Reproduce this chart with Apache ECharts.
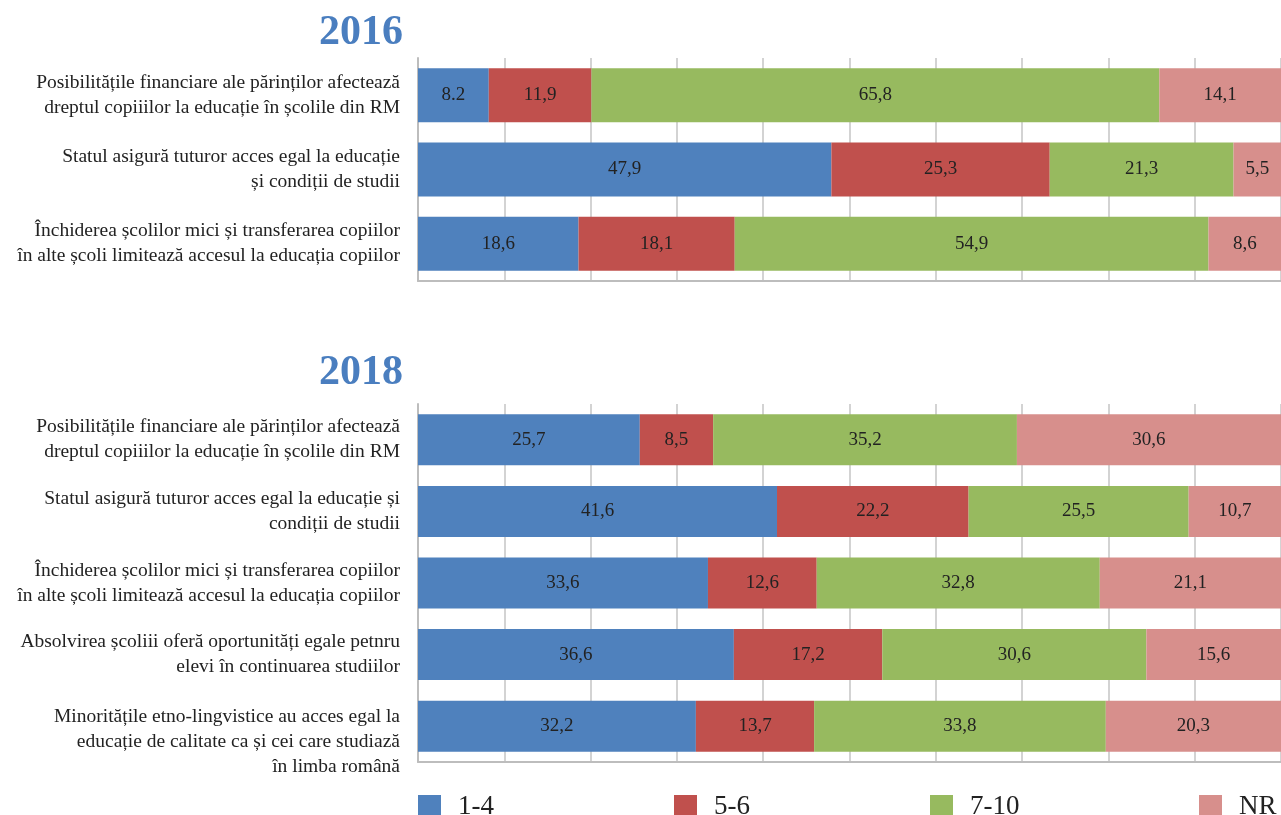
<!DOCTYPE html>
<html>
<head>
<meta charset="utf-8">
<title>2016 / 2018</title>
<script src="https://cdn.jsdelivr.net/npm/echarts@6/dist/echarts.min.js"></script>
<style>
  html, body { margin: 0; padding: 0; background: #fff; }
  #chart { width: 1281px; height: 815px; }
</style>
</head>
<body>
<div id="chart"></div>
<script>
// 2016
var cats2016 = [
  'Posibilitățile financiare ale părinților afectează\ndreptul copiiilor la educație în școlile din RM',
  'Statul asigură tuturor acces egal la educație\nși condiții de studii',
  'Închiderea școlilor mici și transferarea copiilor\nîn alte școli limitează accesul la educația copiilor'
];
var s14_2016 = [8.2, 47.9, 18.6];
var s56_2016 = [11.9, 25.3, 18.1];
var s710_2016 = [65.8, 21.3, 54.9];
var nr_2016 = [14.1, 5.5, 8.6];

// 2018
var cats2018 = [
  'Posibilitățile financiare ale părinților afectează\ndreptul copiiilor la educație în școlile din RM',
  'Statul asigură tuturor acces egal la educație și\ncondiții de studii',
  'Închiderea școlilor mici și transferarea copiilor\nîn alte școli limitează accesul la educația copiilor',
  'Absolvirea școliii oferă oportunități egale petnru\nelevi în continuarea studiilor',
  'Minoritățile etno-lingvistice au acces egal la\neducație de calitate ca și cei care studiază\nîn limba română'
];
var s14_2018 = [25.7, 41.6, 33.6, 36.6, 32.2];
var s56_2018 = [8.5, 22.2, 12.6, 17.2, 13.7];
var s710_2018 = [35.2, 25.5, 32.8, 30.6, 33.8];
var nr_2018 = [30.6, 10.7, 21.1, 15.6, 20.3];

var seriesNames = ['1-4', '5-6', '7-10', 'NR'];
var colors = ['#4F81BD', '#C0504D', '#97BA5F', '#D78F8C'];
var xTicks = [0, 100, 10]; // min, max, interval

var FONT = 'Liberation Serif';
var myChart = echarts.init(document.getElementById('chart'));

function fmt(p) {
  // in the source only the first value uses a dot
  if (p.seriesName === '1-4' && p.dataIndex === 0 && p.value === 8.2) return '8.2';
  return String(p.value).replace('.', ',');
}

function makeSeries(data, gridIdx, barW) {
  return data.map(function (d, i) {
    return {
      name: seriesNames[i],
      type: 'bar',
      stack: 'y' + gridIdx,
      xAxisIndex: gridIdx,
      yAxisIndex: gridIdx,
      barWidth: barW,
      data: d,
      itemStyle: { color: colors[i] },
      label: {
        show: true,
        position: 'inside',
        color: '#222',
        fontFamily: FONT,
        fontSize: 19,
        formatter: fmt
      }
    };
  });
}

function xAxisFor(gridIdx) {
  return {
    type: 'value',
    gridIndex: gridIdx,
    min: xTicks[0],
    max: xTicks[1],
    interval: xTicks[2],
    axisLabel: { show: false },
    axisTick: { show: false },
    axisLine: { show: true, lineStyle: { color: '#BDBDBD', width: 2 } },
    splitLine: { show: true, lineStyle: { color: '#C4C4C4', width: 1.5 } }
  };
}

function yAxisFor(gridIdx, cats) {
  return {
    type: 'category',
    gridIndex: gridIdx,
    inverse: true,
    data: cats,
    axisTick: { show: false },
    axisLine: { show: true, lineStyle: { color: '#BDBDBD', width: 2 } },
    axisLabel: {
      interval: 0,
      hideOverlap: false,
      margin: 18,
      formatter: function (v) {
        return v.split('\n').length > 2 ? '{c|' + v + '}' : '{n|' + v + '}';
      },
      rich: {
        n: { fontFamily: FONT, fontSize: 19.5, lineHeight: 25, color: '#222', align: 'right' },
        c: { fontFamily: FONT, fontSize: 19.5, lineHeight: 25, color: '#222', align: 'right', padding: [32, 0, 0, 0] }
      }
    }
  };
}

var legendLefts = [418, 674, 930, 1199];

myChart.setOption({
  backgroundColor: '#fff',
  animation: false,
  title: [
    { text: '2016', right: 878, top: 12, padding: 0, textStyle: { fontFamily: FONT, fontSize: 42, fontWeight: 'bold', color: '#4A7EBF' } },
    { text: '2018', right: 878, top: 352, padding: 0, textStyle: { fontFamily: FONT, fontSize: 42, fontWeight: 'bold', color: '#4A7EBF' } }
  ],
  legend: seriesNames.map(function (n, i) {
    return {
      data: [n],
      left: legendLefts[i],
      top: 793,
      padding: 0,
      icon: 'rect',
      itemWidth: 23,
      itemHeight: 23,
      selectedMode: false,
      textStyle: { fontFamily: FONT, fontSize: 27, color: '#222', padding: [0, 0, 0, 12] }
    };
  }),
  grid: [
    { left: 418, top: 58, width: 867, height: 223 },
    { left: 418, top: 404, width: 867, height: 358 }
  ],
  xAxis: [xAxisFor(0), xAxisFor(1)],
  yAxis: [yAxisFor(0, cats2016), yAxisFor(1, cats2018)],
  series: makeSeries([s14_2016, s56_2016, s710_2016, nr_2016], 0, 54)
    .concat(makeSeries([s14_2018, s56_2018, s710_2018, nr_2018], 1, 51))
});
</script>
</body>
</html>
